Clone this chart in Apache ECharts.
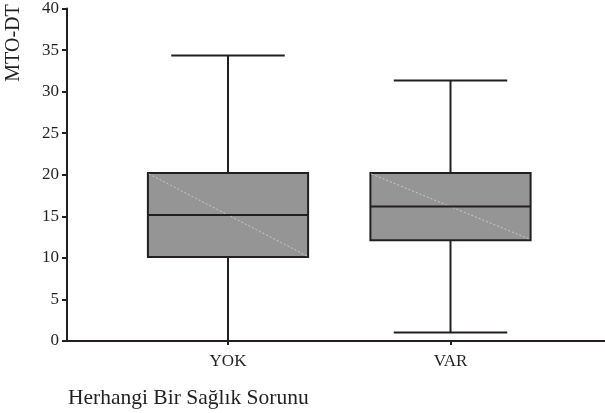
<!DOCTYPE html>
<html>
<head>
<meta charset="utf-8">
<script src="https://cdn.jsdelivr.net/npm/echarts@6/dist/echarts.min.js"></script>
<style>
  html, body { margin: 0; padding: 0; background: #ffffff; }
  #chart { width: 605px; height: 413px; }
</style>
</head>
<body>
<div id="chart"></div>
<script>
// Box plot of MTO-DT scores by health problem group
const categories = ['YOK', 'VAR'];
const minValues = [0, 1];
const q1Values = [10, 12];
const medianValues = [15, 16];
const q3Values = [20, 20];
const maxValues = [34, 31];
const yMin = 0;
const yMax = 40;
const yStep = 5;

const INK = '#231f20';
const FONT = '"Liberation Serif", "DejaVu Serif", serif';

const boxData = categories.map((c, i) => [i, minValues[i], q1Values[i], medianValues[i], q3Values[i], maxValues[i]]);

function renderBox(params, api) {
  const idx = api.value(0);
  const band = api.size([1, 0])[0];
  const boxW = band * 0.72;
  const capW = band * 0.51;
  const pMin = api.coord([idx, api.value(1)]);
  const pQ1 = api.coord([idx, api.value(2)]);
  const pMed = api.coord([idx, api.value(3)]);
  const pQ3 = api.coord([idx, api.value(4)]);
  const pMax = api.coord([idx, api.value(5)]);
  const cx = pMed[0];
  const line = (x1, y1, x2, y2, style) => ({
    type: 'line',
    shape: { x1, y1, x2, y2 },
    style: Object.assign({ stroke: INK, lineWidth: 2 }, style || {})
  });
  return {
    type: 'group',
    children: [
      line(cx, pMax[1], cx, pQ3[1]),
      line(cx, pQ1[1], cx, pMin[1]),
      line(cx - capW / 2, pMax[1], cx + capW / 2, pMax[1]),
      line(cx - capW / 2, pMin[1], cx + capW / 2, pMin[1]),
      {
        type: 'rect',
        shape: { x: cx - boxW / 2, y: pQ3[1], width: boxW, height: pQ1[1] - pQ3[1] },
        style: { fill: '#959595', stroke: INK, lineWidth: 2 }
      },
      line(cx - boxW / 2 + 1, pQ3[1] + 1, cx + boxW / 2 - 1, pQ1[1] - 1,
           { stroke: '#c9c9c9', lineWidth: 1, lineDash: [2, 2] }),
      line(cx - boxW / 2, pMed[1], cx + boxW / 2, pMed[1])
    ]
  };
}

const chart = echarts.init(document.getElementById('chart'), null, { renderer: 'canvas' });
chart.setOption({
  backgroundColor: '#ffffff',
  animation: false,
  grid: [
    { left: 67, right: 0, top: 5, bottom: 72 },
    { left: 116.75, right: 43.25, top: 5, bottom: 72 }
  ],
  xAxis: [
    {
      gridIndex: 0, type: 'value', min: 0, max: 1,
      axisLine: { show: true, lineStyle: { color: INK, width: 2 } },
      axisTick: { show: false }, axisLabel: { show: false }, splitLine: { show: false }
    },
    {
      gridIndex: 1, type: 'category', data: categories,
      axisLine: { show: false },
      axisTick: { show: true, alignWithLabel: true, length: 4, lineStyle: { color: INK, width: 2 } },
      axisLabel: { color: INK, fontFamily: FONT, fontSize: 17, margin: 12 },
      splitLine: { show: false }
    }
  ],
  yAxis: [
    {
      gridIndex: 0, type: 'value', min: yMin, max: yMax, interval: yStep,
      axisLine: { show: true, lineStyle: { color: INK, width: 2 } },
      axisTick: { show: true, length: 5, lineStyle: { color: INK, width: 2 } },
      axisLabel: { color: INK, fontFamily: FONT, fontSize: 17, margin: 8 },
      splitLine: { show: false }
    },
    {
      gridIndex: 1, type: 'value', min: yMin, max: yMax, interval: yStep,
      show: false
    }
  ],
  series: [{
    type: 'custom',
    xAxisIndex: 1,
    yAxisIndex: 1,
    renderItem: renderBox,
    encode: { x: 0, y: [1, 2, 3, 4, 5] },
    data: boxData,
    clip: false,
    z: 3
  }],
  graphic: [
    {
      type: 'text',
      x: 14, y: 43,
      rotation: Math.PI / 2,
      style: {
        text: 'MTO-DT', fill: INK, font: '20px ' + FONT,
        align: 'center', verticalAlign: 'middle'
      }
    },
    {
      type: 'text',
      x: 68, y: 398,
      style: {
        text: 'Herhangi Bir Sağlık Sorunu', fill: INK, font: '21.5px ' + FONT,
        align: 'left', verticalAlign: 'middle'
      }
    }
  ]
});
</script>
</body>
</html>
